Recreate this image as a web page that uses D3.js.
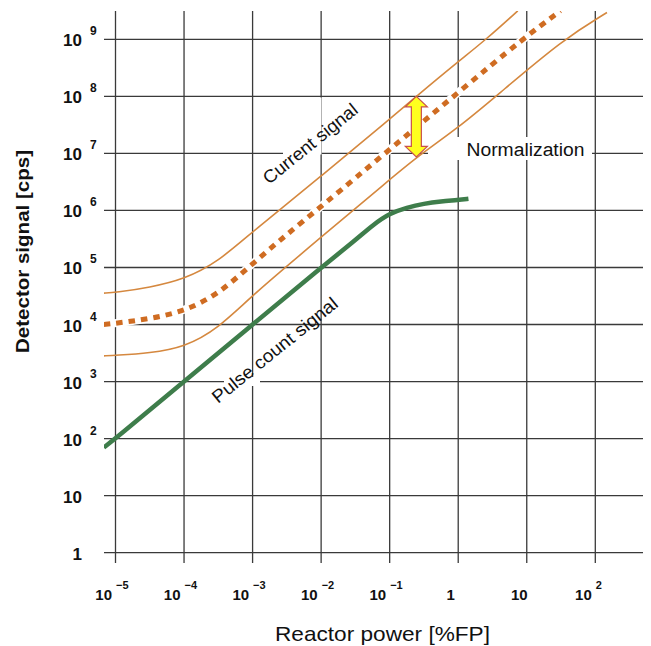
<!DOCTYPE html>
<html>
<head>
<meta charset="utf-8">
<script src="https://cdn.jsdelivr.net/npm/d3@7"></script>
<style>
  body { margin: 0; background: #fff; }
  svg { display: block; }
</style>
</head>
<body>
<svg id="chart" width="651" height="646"></svg>
<script>
// Decades on each axis
const powerTicks = [1e-5, 1e-4, 1e-3, 1e-2, 1e-1, 1, 10, 100];
const powerExponents = [-5, -4, -3, -2, -1, 0, 1, 2];
const signalTicks = [1, 10, 1e2, 1e3, 1e4, 1e5, 1e6, 1e7, 1e8, 1e9];
const signalExponents = [0, 1, 2, 3, 4, 5, 6, 7, 8, 9];

// Pulse count signal [cps] vs reactor power [%FP]
const pulsePower  = [6.76e-6, 1e-5, 1e-4, 1e-3, 1e-2, 0.0316, 0.0562, 0.1, 0.178, 0.316, 0.562, 1, 1.41];
const pulseSignal = [70, 100, 1e3, 1e4, 1e5, 3.0e5, 5.5e5, 8.9e5, 1.12e6, 1.32e6, 1.45e6, 1.52e6, 1.6e6];

// Current signal, nominal (dotted)
const currentPower  = [6.76e-6, 1e-5, 3.16e-5, 1e-4, 3.16e-4, 1e-3, 3.16e-3, 1e-2, 0.1, 1, 9.5, 31];
const currentSignal = [1e4, 1.05e4, 1.26e4, 1.7e4, 3.39e4, 1.17e5, 3.8e5, 1.17e6, 1.17e7, 1.17e8, 1.1e9, 3.16e9];

// Current signal band, upper edge
const upperPower  = [6.76e-6, 1e-5, 3.16e-5, 1e-4, 3.16e-4, 1e-3, 1e-2, 0.1, 0.245, 1, 2.57, 7.4];
const upperSignal = [3.55e4, 3.63e4, 4.47e4, 6.17e4, 1.26e5, 4.27e5, 3.98e6, 3.98e7, 1e8, 4.07e8, 1e9, 3.16e9];

// Current signal band, lower edge
const lowerPower  = [6.76e-6, 1e-5, 3.16e-5, 1e-4, 3.16e-4, 1e-3, 1e-2, 0.1, 0.245, 1, 3.55, 33.9, 148];
const lowerSignal = [2820, 2880, 3160, 3980, 8510, 3.31e4, 3.39e5, 3.47e6, 8.5e6, 2.82e7, 1e8, 1e9, 2.95e9];

// Normalization arrow between the band edges
const normalizationPower = 0.245;
const normalizationSpan = [1e8, 8.7e6];

const FONT = '"Liberation Sans", Arial, Helvetica, sans-serif';
const frame = { left: 104, right: 643, top: 11, bottom: 563 };

const svg = d3.select('#chart');

const x = d3.scaleLog().domain([1e-5, 1e2]).range([115.5, 595.3]);
const y = d3.scaleLog().domain([1, 1e9]).range([552.7, 39.3]);

// Grid
const grid = svg.append('g').attr('stroke', '#3a3a3a').attr('stroke-width', 1.3);
grid.selectAll('line.h').data(signalTicks).join('line')
  .attr('class', 'h')
  .attr('x1', frame.left).attr('x2', frame.right)
  .attr('y1', d => y(d)).attr('y2', d => y(d));
grid.selectAll('line.v').data(powerTicks).join('line')
  .attr('class', 'v')
  .attr('x1', d => x(d)).attr('x2', d => x(d))
  .attr('y1', frame.top).attr('y2', frame.bottom);

// White label backgrounds knocking out the grid
const knock = svg.append('g').attr('fill', '#fff');
knock.append('rect').attr('x', 283).attr('y', 97.5).attr('width', 38.5).attr('height', 57);
knock.append('rect').attr('x', 428).attr('y', 137).attr('width', 164).attr('height', 23);
knock.append('rect').attr('x', 224).attr('y', 377).attr('width', 36).attr('height', 9);

// Curves
svg.append('clipPath').attr('id', 'plot-clip')
  .append('rect')
  .attr('x', frame.left).attr('y', frame.top)
  .attr('width', frame.right - frame.left).attr('height', frame.bottom - frame.top);

const curves = svg.append('g').attr('clip-path', 'url(#plot-clip)').attr('fill', 'none');
const line = d3.line().x(d => x(d[0])).y(d => y(d[1])).curve(d3.curveBasis);
const zip = (a, b) => a.map((v, i) => [v, b[i]]);

curves.append('path')
  .attr('d', line(zip(upperPower, upperSignal)))
  .attr('stroke', '#d5883f').attr('stroke-width', 1.6);
curves.append('path')
  .attr('d', line(zip(lowerPower, lowerSignal)))
  .attr('stroke', '#d5883f').attr('stroke-width', 1.6);
curves.append('path')
  .attr('d', line(zip(currentPower, currentSignal)))
  .attr('stroke', '#fff').attr('stroke-width', 8);
curves.append('path')
  .attr('d', line(zip(currentPower, currentSignal)))
  .attr('stroke', '#cf6c22').attr('stroke-width', 5)
  .attr('stroke-dasharray', '6.5,6');
curves.append('path')
  .attr('d', line(zip(pulsePower, pulseSignal)))
  .attr('stroke', '#3e7d4b').attr('stroke-width', 4.5)
  .attr('stroke-linecap', 'butt');

// Normalization double arrow
const ax = x(normalizationPower);
const yTop = y(normalizationSpan[0]);
const yBot = y(normalizationSpan[1]);
const hw = 11, sw = 5, hl = 10.5;
const arrowPts = [
  [ax, yTop], [ax + hw, yTop + hl], [ax + sw, yTop + hl], [ax + sw, yBot - hl],
  [ax + hw, yBot - hl], [ax, yBot], [ax - hw, yBot - hl], [ax - sw, yBot - hl],
  [ax - sw, yTop + hl], [ax - hw, yTop + hl]
];
svg.append('polygon')
  .attr('points', arrowPts.map(p => p.join(',')).join(' '))
  .attr('fill', '#ffff1e').attr('stroke', '#c9504a').attr('stroke-width', 1.2)
  .attr('stroke-linejoin', 'miter');

// Y tick labels
const yLab = svg.append('g').attr('font-family', FONT).attr('font-weight', 'bold').attr('fill', '#111');
signalExponents.forEach((e, i) => {
  const yy = y(signalTicks[i]);
  yLab.append('text')
    .attr('x', 82).attr('y', yy + 7)
    .attr('text-anchor', 'end').attr('font-size', 17)
    .text(e === 0 ? '1' : '10');
  if (e >= 2) {
    yLab.append('text')
      .attr('x', 90).attr('y', yy - 4)
      .attr('font-size', 12)
      .text(String(e));
  }
});

// X tick labels
const xLab = svg.append('g').attr('font-family', FONT).attr('font-weight', 'bold').attr('fill', '#111');
powerExponents.forEach((e, i) => {
  const xx = x(powerTicks[i]);
  if (e === 0 || e === 1) {
    xLab.append('text')
      .attr('x', xx - 7.5).attr('y', 600)
      .attr('text-anchor', 'middle').attr('font-size', 15)
      .text(e === 0 ? '1' : '10');
  } else {
    xLab.append('text')
      .attr('x', xx - 3.5).attr('y', 600)
      .attr('text-anchor', 'end').attr('font-size', 15)
      .text('10');
    xLab.append('text')
      .attr('x', xx + 0.5).attr('y', 588.5)
      .attr('font-size', 11)
      .text(e < 0 ? '\u2212' + Math.abs(e) : String(e));
  }
});

// Axis titles
svg.append('text')
  .attr('transform', 'translate(28.5,251.5) rotate(-90)')
  .attr('text-anchor', 'middle')
  .attr('font-family', FONT).attr('font-weight', 'bold').attr('font-size', 19)
  .attr('textLength', 203).attr('lengthAdjust', 'spacingAndGlyphs')
  .attr('fill', '#111')
  .text('Detector signal [cps]');

svg.append('text')
  .attr('x', 382.5).attr('y', 641)
  .attr('text-anchor', 'middle')
  .attr('font-family', FONT).attr('font-size', 21)
  .attr('textLength', 215).attr('lengthAdjust', 'spacingAndGlyphs')
  .attr('fill', '#111')
  .text('Reactor power [%FP]');

// Curve annotations
svg.append('text')
  .attr('transform', 'translate(269,185) rotate(-39)')
  .attr('font-family', FONT).attr('font-size', 18)
  .attr('textLength', 116).attr('lengthAdjust', 'spacingAndGlyphs')
  .attr('fill', '#111')
  .text('Current signal');

svg.append('text')
  .attr('transform', 'translate(218,404) rotate(-39)')
  .attr('font-family', FONT).attr('font-size', 18)
  .attr('textLength', 156).attr('lengthAdjust', 'spacingAndGlyphs')
  .attr('fill', '#111')
  .text('Pulse count signal');

svg.append('text')
  .attr('x', 466.5).attr('y', 155.5)
  .attr('font-family', FONT).attr('font-size', 18)
  .attr('textLength', 118).attr('lengthAdjust', 'spacingAndGlyphs')
  .attr('fill', '#111')
  .text('Normalization');
</script>
</body>
</html>
